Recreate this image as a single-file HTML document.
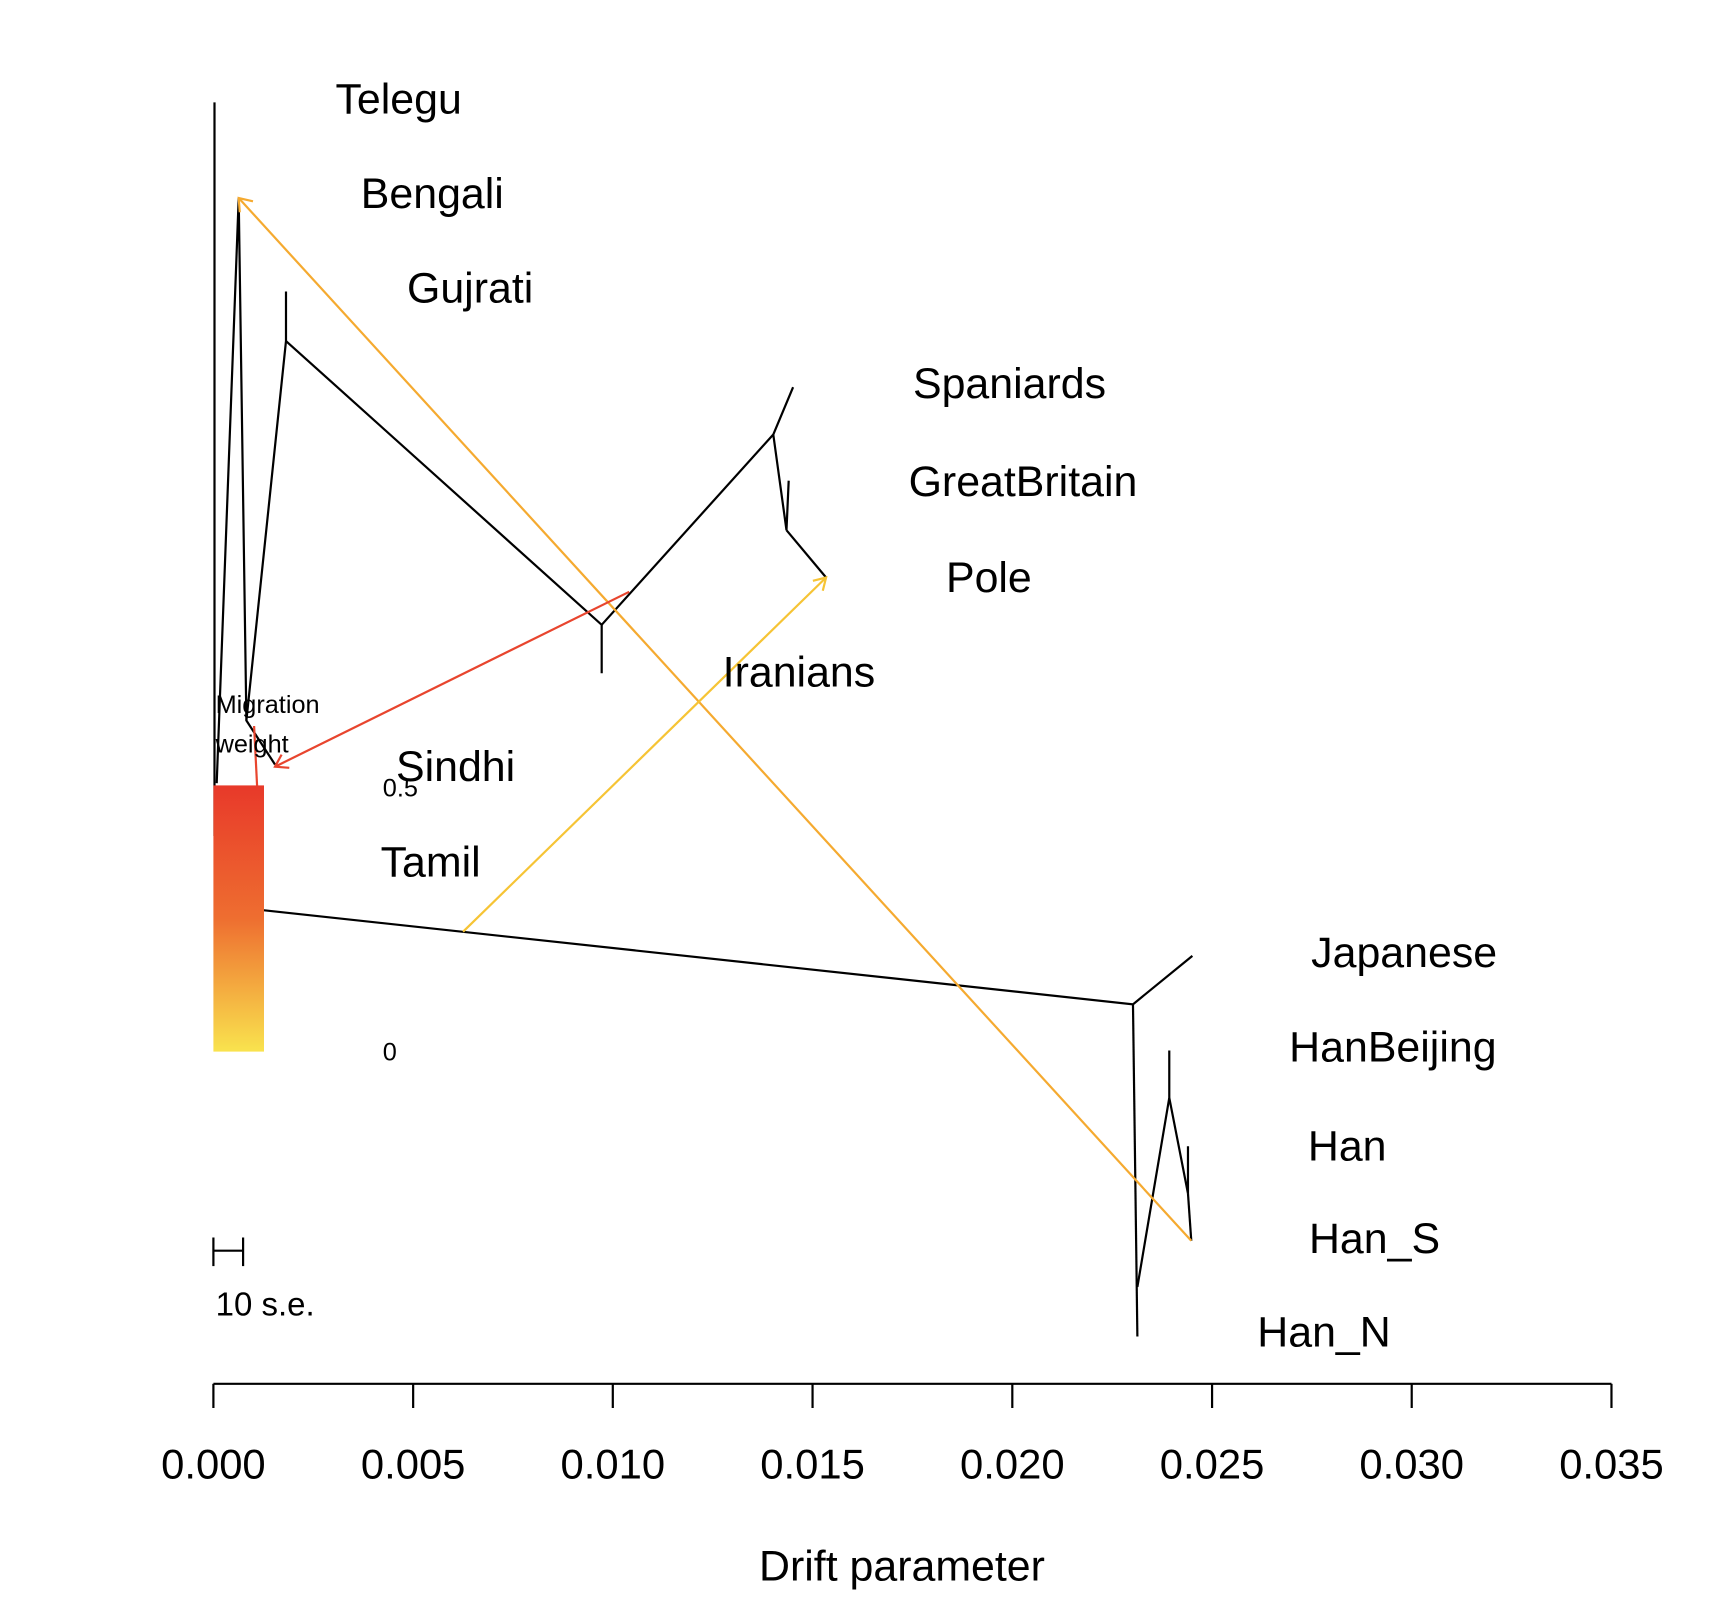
<!DOCTYPE html>
<html><head><meta charset="utf-8"><style>html,body{margin:0;padding:0;background:#fff}svg{display:block}</style></head>
<body>
<svg width="1724" height="1618" viewBox="0 0 1567.3 1470.9" xmlns="http://www.w3.org/2000/svg" font-family="Liberation Sans, Arial, sans-serif">
<defs>
<linearGradient id="g" x1="0" y1="0" x2="0" y2="1">
<stop offset="0" stop-color="#e8392a"/><stop offset="0.5" stop-color="#ee6e30"/><stop offset="1" stop-color="#f9e34e"/>
</linearGradient>
</defs>
<rect width="1567.3" height="1470.9" fill="#fff"/>
<g stroke="#000" stroke-width="2" fill="none">
<line x1="195" y1="93" x2="195" y2="760"/>
<polyline points="197,712 217,180 224,655 250,695"/>
<polyline points="224,655 260,310 260,265"/>
<polyline points="260,310 547,568 547,612"/>
<polyline points="547,568 703,395 721,352"/>
<polyline points="703,395 715,482 717,437"/>
<polyline points="715,482 751,525"/>
<polyline points="235,827 1030,913 1084,869"/>
<polyline points="1030,913 1034,1215"/>
<polyline points="1034,1170 1063,998 1063,955"/>
<polyline points="1063,998 1080,1085 1080,1042"/>
<polyline points="1080,1085 1083,1128"/>
</g>
<g fill="none" stroke-width="2">
<line x1="1083" y1="1128" x2="217" y2="180" stroke="#f5aa30"/>
<polyline points="218,193 217,180 230,183" stroke="#f5aa30"/>
<line x1="572" y1="538" x2="250" y2="697" stroke="#e8452e"/>
<polyline points="256,686 250,697 263,698" stroke="#e8452e"/>
<line x1="421" y1="847" x2="751" y2="525" stroke="#f6c435"/>
<polyline points="739,528 751,525 748,537" stroke="#f6c435"/>
<line x1="231" y1="660" x2="237" y2="780" stroke="#e8452e"/>
</g>
<rect x="194" y="714" width="46" height="242" fill="url(#g)"/>
<g font-size="39" fill="#000">
<text x="305" y="103">Telegu</text>
<text x="328" y="189">Bengali</text>
<text x="370" y="275">Gujrati</text>
<text x="830" y="362">Spaniards</text>
<text x="826" y="451">GreatBritain</text>
<text x="860" y="538">Pole</text>
<text x="657" y="624">Iranians</text>
<text x="360" y="710">Sindhi</text>
<text x="346" y="797">Tamil</text>
<text x="1192" y="879">Japanese</text>
<text x="1172" y="965">HanBeijing</text>
<text x="1189" y="1055">Han</text>
<text x="1190" y="1139">Han_S</text>
<text x="1143" y="1224">Han_N</text>
</g>
<g font-size="23" fill="#000">
<text x="196" y="648">Migration</text>
<text x="196" y="684">weight</text>
<text x="348" y="724">0.5</text>
<text x="348" y="964">0</text>
</g>
<text x="196" y="1196" font-size="30">10 s.e.</text>
<g stroke="#000" stroke-width="2">
<line x1="194" y1="1125" x2="194" y2="1151"/><line x1="194" y1="1137" x2="221" y2="1137"/><line x1="221" y1="1125" x2="221" y2="1151"/>
<line x1="194" y1="1258" x2="1465" y2="1258"/>
<line x1="194" y1="1258" x2="194" y2="1280"/>
<line x1="375.6" y1="1258" x2="375.6" y2="1280"/>
<line x1="557.1" y1="1258" x2="557.1" y2="1280"/>
<line x1="738.7" y1="1258" x2="738.7" y2="1280"/>
<line x1="920.3" y1="1258" x2="920.3" y2="1280"/>
<line x1="1101.9" y1="1258" x2="1101.9" y2="1280"/>
<line x1="1283.4" y1="1258" x2="1283.4" y2="1280"/>
<line x1="1465" y1="1258" x2="1465" y2="1280"/>
</g>
<g font-size="38" text-anchor="middle" fill="#000">
<text x="194" y="1344">0.000</text>
<text x="375.6" y="1344">0.005</text>
<text x="557.1" y="1344">0.010</text>
<text x="738.7" y="1344">0.015</text>
<text x="920.3" y="1344">0.020</text>
<text x="1101.9" y="1344">0.025</text>
<text x="1283.4" y="1344">0.030</text>
<text x="1465" y="1344">0.035</text>
<text x="820" y="1437" font-size="39">Drift parameter</text>
</g>
</svg>
</body></html>
